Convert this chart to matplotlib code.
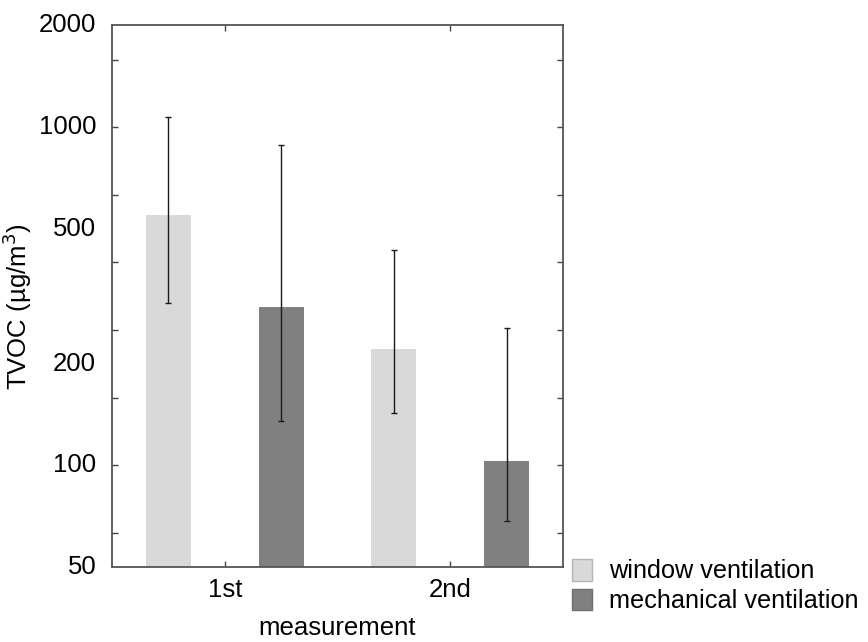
import matplotlib
matplotlib.use("Agg")
import matplotlib.pyplot as plt
import numpy as np
from matplotlib.ticker import FixedLocator, NullLocator, FixedFormatter

plt.rcParams['font.family'] = ['Liberation Sans', 'DejaVu Sans']

categories = ["1st", "2nd"]
series_names = ["window ventilation", "mechanical ventilation"]
window_vals = [551, 221]
window_err_low = [301, 143]
window_err_high = [1072, 434]
mech_vals = [294, 103]
mech_err_low = [135, 68.6]
mech_err_high = [889, 255]
ytick_labels = [50, 100, 200, 500, 1000, 2000]

colors = ["#d9d9d9", "#808080"]
edges = ["#b5b5b5", "#6e6e6e"]
FS = 18.5

fig = plt.figure(figsize=(8.68, 6.42), dpi=100)
ax = fig.add_axes([0.129, 0.1168, 0.5196, 0.8435])

x = np.arange(len(categories))
w = 0.2
off = 0.25
for i, (vals, lo, hi) in enumerate([(window_vals, window_err_low, window_err_high),
                                    (mech_vals, mech_err_low, mech_err_high)]):
    pos = x + (i * 2 - 1) * off
    vals = np.array(vals, float)
    yerr = np.vstack([vals - np.array(lo), np.array(hi) - vals])
    ax.bar(pos, vals, width=w, color=colors[i], label=series_names[i], zorder=1)
    ax.errorbar(pos, vals, yerr=yerr, fmt='none', ecolor='#1a1a1a', elinewidth=1.0,
                capsize=2, capthick=1.0, zorder=2)

ax.set_yscale('log')
ax.set_ylim(50, 2000)
ax.set_xlim(-0.5, 1.5)

# tick marks at every 0.2 decade, labels at fixed values
tick_pos = [10 ** (k / 5) for k in range(9, 17)]
ax.yaxis.set_major_locator(FixedLocator(tick_pos))
ax.yaxis.set_major_formatter(FixedFormatter([""] * len(tick_pos)))
ax.yaxis.set_minor_locator(NullLocator())
for v in ytick_labels:
    ax.text(-0.035, v, str(v), transform=ax.get_yaxis_transform(), ha='right', va='center', fontsize=FS)

ax.set_xticks(x)
ax.set_xticklabels(categories, fontsize=FS)
ax.tick_params(axis='both', direction='in', length=4, width=1, color='#444444',
               top=True, right=True)
ax.tick_params(axis='x', pad=8)
for s in ax.spines.values():
    s.set_color('#555555')
    s.set_linewidth(1.3)

ax.set_xlabel("measurement", fontsize=FS, labelpad=10)
ax.set_ylabel("TVOC (µg/m$^3$)", fontsize=FS)
ax.yaxis.set_label_coords(-0.172, 0.48)

handles = [plt.Rectangle((0, 0), 1, 1, facecolor=colors[i], edgecolor=edges[i], linewidth=1)
           for i in range(2)]
leg = fig.legend(handles, series_names, loc='lower left', bbox_to_anchor=(0.659, 0.045),
                 frameon=False, fontsize=18.2, handlelength=0.8, handleheight=0.95,
                 handletextpad=0.65, labelspacing=0.2, borderaxespad=0, borderpad=0)

fig.savefig("out.png", dpi=100)
